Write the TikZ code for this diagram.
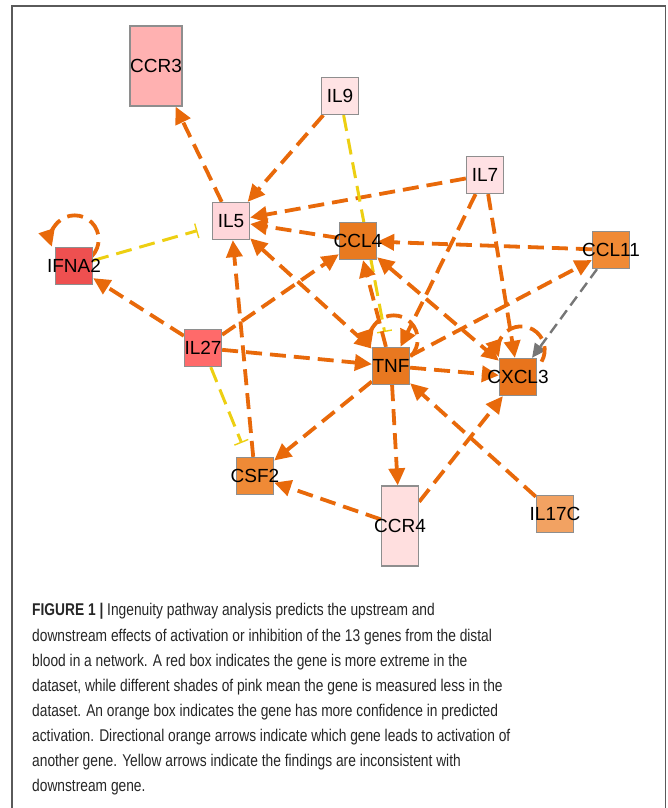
\documentclass[tikz,border=0pt]{standalone}
\usepackage{fontspec}
\setmainfont{Liberation Sans}
\newfontfamily\genefont{Liberation Sans}
\newfontfamily\capfont[FakeStretch=0.81]{Liberation Sans}
\usetikzlibrary{arrows.meta,backgrounds}
\definecolor{edgeor}{HTML}{E8690A}
\definecolor{edgeye}{HTML}{EDCF12}
\definecolor{edgegr}{HTML}{767676}
\definecolor{boxbd}{HTML}{8E8E8E}
\definecolor{frame}{HTML}{5A5A5A}
\definecolor{cCCRthree}{HTML}{FFB1B1}
\definecolor{cILnine}{HTML}{FFE3E4}
\definecolor{cILseven}{HTML}{FFE1E4}
\definecolor{cILfive}{HTML}{FFD6DA}
\definecolor{cCCLfour}{HTML}{E97A20}
\definecolor{cCCLeleven}{HTML}{F08A35}
\definecolor{cIFNA}{HTML}{EE5050}
\definecolor{cILtwsev}{HTML}{FF6A6A}
\definecolor{cTNF}{HTML}{E87820}
\definecolor{cCXCL}{HTML}{E8741C}
\definecolor{cCSF}{HTML}{EF8A36}
\definecolor{cCCRfour}{HTML}{FFDFDF}
\definecolor{cILsevC}{HTML}{F2A262}
\definecolor{captxt}{HTML}{262626}
\begin{document}
\begin{tikzpicture}[x=1pt,y=1pt,
  gene/.style={draw=boxbd, line width=1.3pt, minimum width=37pt, minimum height=37pt,
    inner sep=0pt, font=\genefont\fontsize{19}{19}\selectfont, text=black},
  tall/.style={minimum height=80pt},
  tip/.style={},
  arr/.style={draw=edgeor, line width=3.8pt, dash pattern=on 16pt off 8pt,
    -{Triangle[length=17pt,width=16pt]}},
  biarr/.style={draw=edgeor, line width=3.8pt, dash pattern=on 16pt off 8pt,
    {Triangle[length=17pt,width=16pt]}-{Triangle[length=17pt,width=16pt]}},
  inh/.style={draw=edgeye, line width=3pt, dash pattern=on 16pt off 8pt,
    -{Bar[width=15pt,line width=1.4pt]}, shorten >=15pt},
  gry/.style={draw=edgegr, line width=2.4pt, dash pattern=on 11pt off 6pt,
    -{Triangle[length=14pt,width=13pt]}},
  capline/.style={anchor=base west, inner sep=0pt, text=captxt,
    font=\capfont\fontsize{17}{25}\selectfont}
]
\useasboundingbox (0,0) rectangle (667,808);
\draw[frame, line width=1.6pt] (12,-5) -- (12,802) -- (665.5,802) -- (665.5,-5);

% genes
\node[gene, tall, fill=cCCRthree] (ccr3) at (156,742) {CCR3};
\node[gene, fill=cILnine] (il9) at (340,712) {IL9};
\node[gene, fill=cILseven] (il7) at (485,633) {IL7};
\node[gene, fill=cILfive] (il5) at (231,587) {IL5};
\node[gene, fill=cCCLfour] (ccl4) at (358,567) {\makebox[0pt]{CCL4}};
\node[gene, fill=cCCLeleven] (ccl11) at (611,558) {\makebox[0pt]{CCL11}};
\node[gene, fill=cIFNA] (ifna) at (74,542) {\makebox[0pt]{IFNA2}};
\node[gene, fill=cILtwsev] (il27) at (203,460) {IL27};
\node[gene, fill=cTNF] (tnf) at (391,442) {TNF};
\node[gene, fill=cCXCL] (cxcl3) at (518,431) {\makebox[0pt]{CXCL3}};
\node[gene, fill=cCSF] (csf2) at (255,332) {\makebox[0pt]{CSF2}};
\node[gene, tall, fill=cCCRfour] (ccr4) at (400,282) {\makebox[0pt]{CCR4}};
\node[gene, fill=cILsevC] (il17c) at (555,294) {\makebox[0pt]{IL17C}};

\begin{scope}[on background layer]
\draw[arr] (il5) -- (ccr3);
\draw[arr] (il9) -- (il5);
\draw[arr] (il7) -- (il5);
\draw[arr] (ccl4) -- (il5);
\draw[biarr] (il5) -- (tnf);
\draw[arr] (csf2) -- (il5);
\draw[arr] (il27) -- (ccl4);
\draw[arr] (il27) -- (ifna);
\draw[arr] (il27) -- (tnf);
\draw[inh] (il27) -- (csf2);
\draw[inh] (ifna) -- (il5);
\draw[inh] (il9) -- (tnf);
\draw[arr] (tnf) -- (ccl4);
\draw[arr] (ccl11) -- (ccl4);
\draw[biarr] (ccl4) -- (cxcl3);
\draw[arr] (il7) -- (tnf);
\draw[arr] (il7) -- (cxcl3);
\draw[arr] (tnf) -- (ccl11);
\draw[gry] (ccl11) -- (cxcl3);
\draw[arr] (tnf) -- (cxcl3);
\draw[arr] (tnf) -- (csf2);
\draw[arr] (tnf) -- (ccr4);
\draw[arr] (ccr4) -- (csf2);
\draw[arr] (ccr4) -- (cxcl3);
\draw[arr] (il17c) -- (tnf);
% self loops
\draw[arr] ([xshift=-1.5pt,yshift=-9.5pt]ifna.north east) arc[start angle=-45,end angle=198,radius=24pt];
\draw[arr] ([xshift=0.5pt,yshift=-9.5pt]tnf.north east) arc[start angle=-45,end angle=198,radius=24pt];
\draw[arr] ([xshift=4.4pt,yshift=-3.8pt]cxcl3.north east) arc[start angle=-30,end angle=198,radius=23.5pt];
\end{scope}

% caption
\node[capline] (cap1) at (32,192) {{\bfseries FIGURE 1 |} Ingenuity pathway analysis predicts the upstream and};
\node[capline] (cap2) at (32,166.9) {downstream effects of activation or inhibition of the 13 genes from the distal};
\node[capline] (cap3) at (32,141.8) {blood in a network. A red box indicates the gene is more extreme in the};
\node[capline] (cap4) at (32,116.7) {dataset, while different shades of pink mean the gene is measured less in the};
\node[capline] (cap5) at (32,91.6) {dataset. An orange box indicates the gene has more confidence in predicted};
\node[capline] (cap6) at (32,66.5) {activation. Directional orange arrows indicate which gene leads to activation of};
\node[capline] (cap7) at (32,41.4) {another gene. Yellow arrows indicate the findings are inconsistent with};
\node[capline] (cap8) at (32,16.3) {downstream gene.};
\end{tikzpicture}
\end{document}
